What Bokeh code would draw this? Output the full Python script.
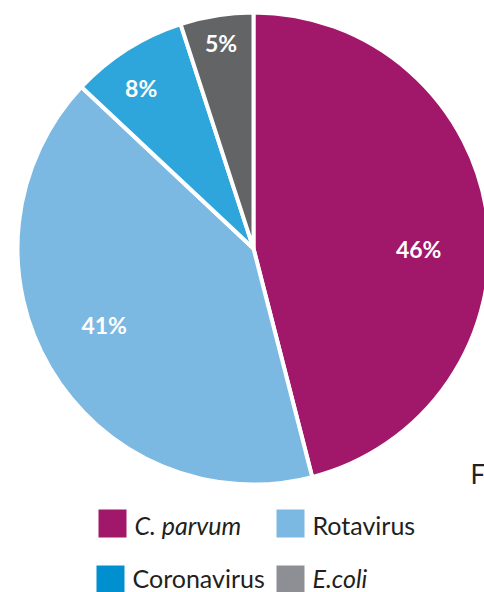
import math
from bokeh.plotting import figure
from bokeh.models import Range1d, ColumnDataSource
from bokeh.core.properties import value
from bokeh.embed import file_html
from bokeh.resources import INLINE

# ---- data ----
categories = ["C. parvum", "Rotavirus", "Coronavirus", "E.coli"]
shares = [46, 41, 8, 5]
labels = ["46%", "41%", "8%", "5%"]
pie_colors = ["#A1176A", "#7BB9E3", "#2FA6DB", "#636466"]
legend_colors = ["#A1176A", "#7BB9E3", "#0090CF", "#8E8F94"]
legend_italic = [True, False, False, True]
# label placement (layout): fraction of radius, angle in degrees
label_frac = [0.70, 0.71, 0.83, 0.88]
label_angle = [0, 207, 125, 99]

W, H = 484, 592
p = figure(width=W, height=H, output_backend="svg", toolbar_location=None,
           x_range=Range1d(0, W), y_range=Range1d(0, H),
           min_border=0, outline_line_color=None)
p.axis.visible = False
p.grid.visible = False
p.background_fill_color = "white"
p.border_fill_color = "white"

def sy(y):  # screen y -> data y
    return H - y

cx, cy, R = 253, sy(248), 236

total = sum(shares)
starts, ends = [], []
acc = 0
for s in shares:
    a0 = 90 - 360 * acc / total
    acc += s
    a1 = 90 - 360 * acc / total
    starts.append(a0)
    ends.append(a1)

src = ColumnDataSource(dict(start=starts, end=ends, color=pie_colors))
p.wedge(x=cx, y=cy, radius=R, start_angle="start", end_angle="end",
        start_angle_units="deg", end_angle_units="deg", direction="clock",
        fill_color="color", line_color="white", line_width=4, source=src)

lx = [cx + f * R * math.cos(math.radians(m)) for f, m in zip(label_frac, label_angle)]
ly = [cy + f * R * math.sin(math.radians(m)) for f, m in zip(label_frac, label_angle)]
p.text(x=lx, y=ly, text=labels, text_color="white", text_font=value("Lato"),
       text_font_style="bold", text_font_size="23px", text_align="center",
       text_baseline="middle")

# ---- legend ----
col_x = [112, 290, 110, 290]
row_y = [sy(523), sy(523), sy(579), sy(579)]
text_y = [sy(524), sy(524), sy(577), sy(577)]
p.rect(x=col_x, y=row_y, width=28, height=28, fill_color=legend_colors,
       line_color=None)
for i, name in enumerate(categories):
    p.text(x=[col_x[i] + 22], y=[text_y[i]], text=[name],
           text_color="#231F20", text_font=value("Lato"),
           text_font_style="italic" if legend_italic[i] else "normal",
           text_font_size="25px", text_align="left",
           text_baseline="middle")

p.text(x=[470], y=[sy(473)], text=["Fr"], text_color="#231F20",
       text_font=value("Lato"), text_font_size="26px",
       text_align="left", text_baseline="middle")

open("out.html", "w").write(file_html(p, INLINE))
